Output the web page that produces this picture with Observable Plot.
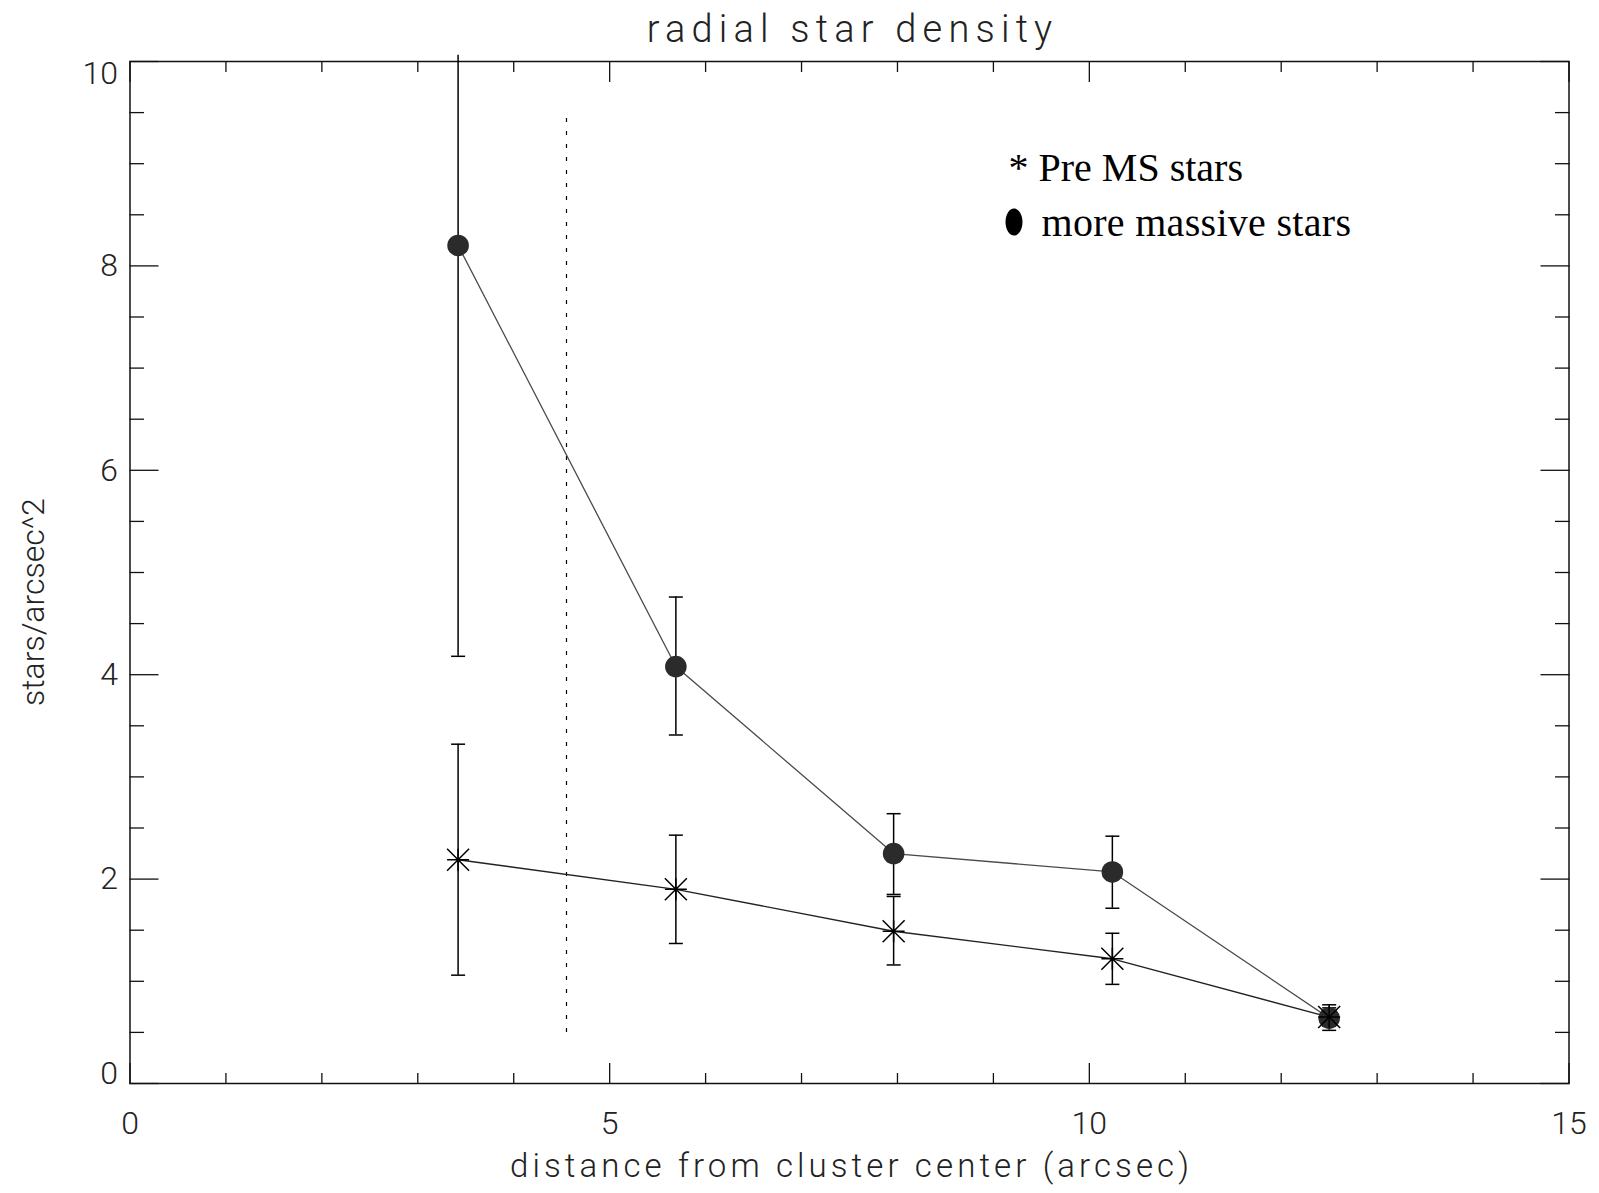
<!DOCTYPE html>
<html>
<head>
<meta charset="utf-8">
<script src="https://cdn.jsdelivr.net/npm/d3@7"></script>
<script src="https://cdn.jsdelivr.net/npm/@observablehq/plot@0.6"></script>
<style>
  html, body { margin: 0; padding: 0; background: #fff; }
</style>
</head>
<body>
<div id="chart"></div>
<script>
// ---- data ----
const distance   = [3.42, 5.69, 7.96, 10.24, 12.50];
const preMS      = [2.19, 1.90, 1.49, 1.22, 0.65];
const preMSLow   = [1.06, 1.37, 1.16, 0.97, 0.56];
const preMSHigh  = [3.32, 2.43, 1.83, 1.47, 0.74];
const massive     = [8.20, 4.08, 2.25, 2.07, 0.64];
const massiveLow  = [4.18, 3.41, 1.85, 1.715, 0.52];
const massiveHigh = [10.06, 4.76, 2.64, 2.42, 0.77];
const cutoffRadius = [4.55];
const cutoffSpan = [0.50, 9.52];

const xMajorTicks = [0, 5, 10, 15];
const xMinorTicks = [1, 2, 3, 4, 6, 7, 8, 9, 11, 12, 13, 14];
const yMajorTicks = [0, 2, 4, 6, 8, 10];
const yMinorTicks = [0.5, 1, 1.5, 2.5, 3, 3.5, 4.5, 5, 5.5, 6.5, 7, 7.5, 8.5, 9, 9.5];
const yMidLabels = [2, 4, 6, 8];
const yTopLabel = [10];
const yBottomLabel = [0];

const titleText = "radial star density";
const xLabelText = "distance from cluster center (arcsec)";
const yLabelText = "stars/arcsec^2";
const legendPre = "* Pre MS stars";
const legendMassive = "more massive stars";

const xDomain = [0, 15];
const yDomain = [0, 10];

// ---- tables built from arrays ----
const rows = distance.map((d, i) => ({
  d, pre: preMS[i], preLo: preMSLow[i], preHi: preMSHigh[i],
  mas: massive[i], masLo: massiveLow[i], masHi: massiveHigh[i]
}));
const preCaps = distance.flatMap((d, i) => [{d, v: preMSLow[i]}, {d, v: preMSHigh[i]}]);
const masCaps = distance.flatMap((d, i) => [{d, v: massiveLow[i]}, {d, v: massiveHigh[i]}])
  .filter(c => c.v <= yDomain[1]);
const cutoff = cutoffRadius.map(r => ({r, y1: cutoffSpan[0], y2: cutoffSpan[1]}));

// ---- custom symbols ----
const asterisk = {
  draw(ctx, size) {
    const r = Math.sqrt(size / Math.PI);
    ctx.moveTo(-r, 0); ctx.lineTo(r, 0);
    ctx.moveTo(0, -r); ctx.lineTo(0, r);
    ctx.moveTo(-r, -r); ctx.lineTo(r, r);
    ctx.moveTo(-r, r); ctx.lineTo(r, -r);
  }
};
const hline = {
  draw(ctx, size) {
    const r = Math.sqrt(size / Math.PI);
    ctx.moveTo(-r, 0); ctx.lineTo(r, 0);
  }
};
const ellipse = {
  draw(ctx, size) {
    const ry = Math.sqrt(size / Math.PI), rx = ry * 0.63, k = 0.5523;
    ctx.moveTo(rx, 0);
    ctx.bezierCurveTo(rx, ry * k, rx * k, ry, 0, ry);
    ctx.bezierCurveTo(-rx * k, ry, -rx, ry * k, -rx, 0);
    ctx.bezierCurveTo(-rx, -ry * k, -rx * k, -ry, 0, -ry);
    ctx.bezierCurveTo(rx * k, -ry, rx, -ry * k, rx, 0);
    ctx.closePath();
  }
};

const tickFont = 32;
const axisStroke = "#111";
const fmt = d => `${d}`;
const serif = "'Liberation Serif', 'Times New Roman', serif";

const chart = Plot.plot({
  width: 1599,
  height: 1193,
  marginLeft: 129.5,
  marginRight: 30.5,
  marginTop: 61,
  marginBottom: 110,
  style: { fontFamily: "Roboto, 'DejaVu Sans', sans-serif", fontWeight: 300, background: "#fff", color: "#000" },
  x: { domain: xDomain, axis: null },
  y: { domain: yDomain, axis: null },
  marks: [
    Plot.frame({ stroke: axisStroke, strokeWidth: 1.5 }),
    // ticks (inward)
    Plot.axisX(xMajorTicks, { anchor: "bottom", tickSize: -20, fill: "none", stroke: axisStroke, strokeWidth: 1.3, label: null }),
    Plot.axisX(xMinorTicks, { anchor: "bottom", tickSize: -10, fill: "none", stroke: axisStroke, strokeWidth: 1.3, label: null }),
    Plot.axisX(xMajorTicks, { anchor: "top", tickSize: -20, fill: "none", stroke: axisStroke, strokeWidth: 1.3, label: null }),
    Plot.axisX(xMinorTicks, { anchor: "top", tickSize: -10, fill: "none", stroke: axisStroke, strokeWidth: 1.3, label: null }),
    Plot.axisY(yMajorTicks, { anchor: "left", tickSize: -29, fill: "none", stroke: axisStroke, strokeWidth: 1.3, label: null }),
    Plot.axisY(yMinorTicks, { anchor: "left", tickSize: -14.5, fill: "none", stroke: axisStroke, strokeWidth: 1.3, label: null }),
    Plot.axisY(yMajorTicks, { anchor: "right", tickSize: -29, fill: "none", stroke: axisStroke, strokeWidth: 1.3, label: null }),
    Plot.axisY(yMinorTicks, { anchor: "right", tickSize: -14.5, fill: "none", stroke: axisStroke, strokeWidth: 1.3, label: null }),
    // tick labels
    Plot.axisX(xMajorTicks, { anchor: "bottom", tickSize: 0, tickPadding: 28, tickFormat: fmt, fontSize: tickFont, fill: "#222", label: null }),
    Plot.axisY(yMidLabels, { anchor: "left", tickSize: 0, tickPadding: 12, tickFormat: fmt, fontSize: tickFont, fill: "#222", label: null }),
    Plot.axisY(yTopLabel, { anchor: "left", tickSize: 0, tickPadding: 12, tickFormat: fmt, fontSize: tickFont, fill: "#222", label: null, lineAnchor: "top" }),
    Plot.axisY(yBottomLabel, { anchor: "left", tickSize: 0, tickPadding: 12, tickFormat: fmt, fontSize: tickFont, fill: "#222", label: null, lineAnchor: "bottom" }),
    // titles
    Plot.text([titleText], { frameAnchor: "top", dx: 3, dy: -19.5, lineAnchor: "bottom", fontSize: 38, fill: "#222" }),
    Plot.text([xLabelText], { frameAnchor: "bottom", dx: 2, dy: 93, lineAnchor: "bottom", fontSize: 33, fill: "#222" }),
    Plot.text([yLabelText], { frameAnchor: "left", dx: -86.5, dy: 29.6, rotate: -90, textAnchor: "middle", lineAnchor: "bottom", fontSize: 32, fill: "#222" }),
    // dashed cutoff
    Plot.ruleX(cutoff, { x: "r", y1: "y1", y2: "y2", stroke: "#000", strokeWidth: 1.2, strokeDasharray: "4,9" }),
    // connecting lines
    Plot.line(rows, { x: "d", y: "mas", stroke: "#4a4a4a", strokeWidth: 1.3 }),
    Plot.line(rows, { x: "d", y: "pre", stroke: "#222", strokeWidth: 1.4 }),
    // error bars
    Plot.ruleX(rows, { x: "d", y1: "masLo", y2: "masHi", stroke: "#000", strokeWidth: 1.5 }),
    Plot.ruleX(rows, { x: "d", y1: "preLo", y2: "preHi", stroke: "#000", strokeWidth: 1.5 }),
    Plot.dot(masCaps, { x: "d", y: "v", symbol: hline, r: 7, fill: "none", stroke: "#000", strokeWidth: 1.5 }),
    Plot.dot(preCaps, { x: "d", y: "v", symbol: hline, r: 7, fill: "none", stroke: "#000", strokeWidth: 1.5 }),
    // markers
    Plot.dot(rows, { x: "d", y: "mas", r: 10.8, fill: "#2b2b2b", stroke: "none" }),
    Plot.dot(rows, { x: "d", y: "pre", symbol: asterisk, r: 11, fill: "none", stroke: "#000", strokeWidth: 1.5 }),
    // legend
    Plot.text([legendPre], { frameAnchor: "top-left", dx: 878.5, dy: 119.5, textAnchor: "start", lineAnchor: "bottom", fontSize: 40, fontFamily: serif, fontWeight: 400, fill: "#000" }),
    Plot.dot([legendMassive], { frameAnchor: "top-left", dx: 884, dy: 160.5, symbol: ellipse, r: 13.5, fill: "#000", stroke: "none" }),
    Plot.text([legendMassive], { frameAnchor: "top-left", dx: 911.5, dy: 174.5, textAnchor: "start", lineAnchor: "bottom", fontSize: 40, fontFamily: serif, fontWeight: 400, fill: "#000" })
  ]
});

// wide lettering of the original plotting font
const spacing = new Map([[titleText, 6.2], [xLabelText, 4.1], [legendMassive, 0.3]]);
d3.select(chart).selectAll("text").each(function () {
  const s = spacing.get(this.textContent);
  if (s) d3.select(this).style("letter-spacing", `${s}px`);
});

document.getElementById("chart").appendChild(chart);
</script>
</body>
</html>
